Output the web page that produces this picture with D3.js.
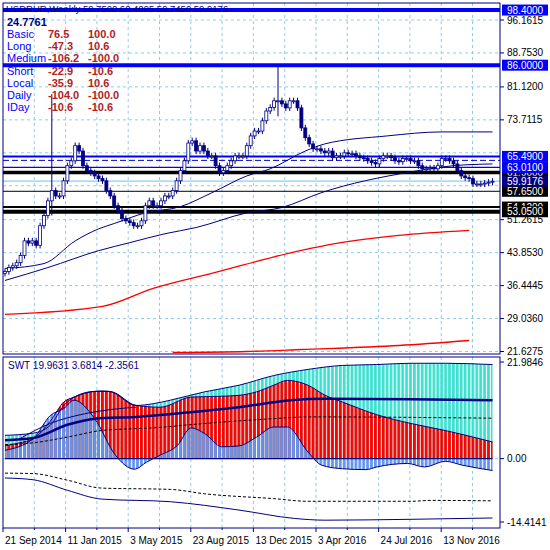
<!DOCTYPE html>
<html><head><meta charset="utf-8">
<script src="https://cdn.jsdelivr.net/npm/d3@7"></script>
<style>body{margin:0;background:#fff}svg{display:block}text{font-family:"Liberation Sans",Arial,sans-serif}</style>
</head><body><svg id="c" width="550" height="550"></svg>
<script>
// ---------- DATA ----------
const closes = [39.6,40.5,40.9,41.6,43.2,46.5,46.0,46.5,45.5,49.9,
52.2,55.5,57.8,56.6,56.6,60.0,63.4,64.5,67.9,66.7,
63.4,62.3,61.8,61.1,60.5,60.0,57.8,56.6,54.4,53.3,
51.5,51.0,50.6,49.9,49.9,51.0,54.4,55.5,54.4,54.4,
55.5,56.6,56.6,57.8,60.0,62.3,64.5,68.5,69.0,66.7,
67.9,66.7,65.6,65.6,63.4,61.8,62.3,63.4,64.5,65.6,
65.6,65.6,67.9,70.1,71.2,71.2,73.5,75.7,76.5,78.0,
78,77.3,76.4,78,78,76.4,71.9,69.7,68.3,67.2,
67.2,66.7,66.3,66.7,65.2,65.6,65.6,66.3,66.1,66.1,
65.6,65.2,65,64.5,64.1,63.8,65,65.6,65.6,65.2,
64.5,64.3,65,65,64.5,64.5,63.4,62.7,62.7,62.9,
62.7,63.4,65,65,64.5,63.8,62.3,61.1,60.7,60.5,
59.3,59.3,59.3,59.5,59.7,59.9];
const firstOpen = 39.2;
const spikes = [{i:12, high:79.5, low:52.2},{i:70, high:86.0, low:74.5}];
const maUpper = [[0,40.3],[10,41.4],[18,46.5],[24,49.2],[28,50.4],[36,52.8],[45,54.2],[53,57.3],[62,61.1],[68,62.7],[77,66.7],[82,68.3],[98,70.1],[112,71.0],[125,71.0]];
const maLower = [[0,37.6],[11,40.5],[24,44.3],[32,46.1],[41,48.1],[49,49.5],[62,52.8],[71,54.0],[81,57.3],[104,62.0],[115,63.4],[125,63.8]];
const maRedUpper = [[0,29.96],[25,31.76],[38,35.81],[53,39.19],[76,44.37],[85,45.95],[101,47.75],[119,48.87]];
const maRedLower = [[43,21.4],[62,21.63],[76,22.08],[101,22.98],[119,24.1]];
const levels = [
 {v:98.4, color:"#0000ff", w:4, label:"98.4000", bg:"#0000ff", fg:"#fff"},
 {v:86.0, color:"#0000ff", w:4, label:"86.0000", bg:"#0000ff", fg:"#fff"},
 {v:65.49, color:"#0000ff", w:2, label:"65.4900", bg:"#0000ff", fg:"#fff"},
 {v:64.6, color:"#0000cc", w:1, dash:"6,3"},
 {v:63.01, color:"#0000ff", w:1.2, label:"63.0100", bg:"#0000ff", fg:"#fff"},
 {v:61.9, color:"#000", w:3.5, label:"61.9000", bg:"#000", fg:"#fff"},
 {v:59.9176, color:"#87cefa", w:1.2, label:"59.9176", bg:"#000080", fg:"#fff"},
 {v:57.65, color:"#000", w:1, label:"57.6500", bg:"#000", fg:"#fff"},
 {v:54.1, color:"#000", w:2, label:"54.1200", bg:"#000", fg:"#fff"},
 {v:53.05, color:"#000", w:4, label:"53.0500", bg:"#000", fg:"#fff"}];
const priceTicks = [96.1615,88.7530,81.1200,73.7115,51.2615,43.8530,36.4445,29.0360,21.6275];
const gridPrices = [96.1615,88.7530,81.1200,73.7115,66.3030,58.8945,51.2615,43.8530,36.4445,29.0360,21.6275];
const dateLabels = ["21 Sep 2014","11 Jan 2015","3 May 2015","23 Aug 2015","13 Dec 2015","3 Apr 2016","24 Jul 2016","13 Nov 2016"];
const tableRows = [["Basic","76.5","100.0"],["Long","-47.3","10.6"],["Medium","-106.2","-100.0"],["Short","-22.9","-10.6"],["Local","-35.9","10.6"],["Daily","-104.0","-100.0"],["IDay","-10.6","-10.6"]];
// SWT panel
const swtCyan = [[0,5.3],[7.2,5.8],[11.6,7.6],[15.1,12.1],[17.7,14.0],[23,15.3],[26.6,15.3],[33.6,12.1],[38,12.5],[42.4,13.3],[51.2,15.2],[60,16.7],[68.9,18.9],[77.7,20.3],[86.5,21.2],[95.3,21.4],[104.1,21.7],[112.9,21.7],[125,21.4]];
const swtRed = [[0,2.9],[3.7,3.6],[7.2,4.5],[11.6,8.5],[15.1,12.9],[17.7,14.0],[24.8,15.4],[27.4,15.2],[33.6,12.1],[39.8,11.7],[47.7,14.0],[55.6,14.2],[60,14.4],[64.5,15.2],[68.9,16.7],[72.4,17.8],[77.7,16.7],[82.1,14.4],[86.5,12.9],[95.3,10.0],[104.1,8.0],[112.9,6.4],[125,3.8]];
const swtBlue = [[0,1.9],[7.2,4.5],[11.6,9.8],[15.1,11.4],[17.7,13.3],[23,9.1],[28.3,0.8],[33.2,-2.4],[36.3,-0.8],[39.8,0.8],[44.2,3.0],[47.7,7.0],[51.2,5.7],[55.6,2.7],[60,2.9],[64.5,4.9],[68.9,7.2],[72.4,7.2],[77.7,1.5],[81.2,-1.5],[86.5,-2.3],[92.6,-2.5],[95.3,-1.9],[103.2,-1.1],[107.6,-1.9],[112.9,-0.6],[117.3,-1.5],[125,-2.7]];
const swtThick = [[0,4.2],[7.2,4.7],[16,7.7],[23,9.1],[33.6,9.5],[46.8,10.5],[60,11.7],[73.3,13.3],[82.1,13.6],[104.1,13.5],[125,13.3]];
const swtThin = [[3.7,4.5],[11.6,8.0],[20.4,10.2],[27.4,11.2],[33.6,11.7]];
const swtDashUp = [[0,3.2],[7.2,3.6],[16,4.9],[24.8,6.4],[38,7.0],[51.2,8.0],[68.9,9.1],[77.7,9.5],[125,9.2]];
const swtDashLo = [[0,-3.3],[7.2,-3.4],[16,-4.9],[24.8,-6.7],[42.4,-7.0],[51.2,-8.0],[68.9,-9.1],[77.7,-9.7],[104.1,-9.7],[109.4,-9.5],[125,-9.6]];
const swtLow = [[0,-4.4],[7.2,-4.8],[16,-7.2],[24.8,-9.2],[42.4,-9.8],[60,-11.7],[74.2,-13.6],[82.1,-14.0],[104.1,-13.8],[125,-13.5]];
const swtTicks = [21.9846, 0.00, -14.4141];
const swtText = "SWT 19.9631 3.6814 -2.3561";

// ---------- DRAW ----------
const svg = d3.select("#c");
const NAVY="#000080";
const L=3,R=500;
const mainTop=3, mainBot=354, subTop=357, subBot=528;
const x = d3.scaleLinear().domain([0,1]).range([5,8.9]);
const y = d3.scaleLinear().domain([21.6275,96.1615]).range([351.5,20]);
const ys = d3.scaleLinear().domain([-14.4141,21.9846]).range([522,362]);

const defs = svg.append("defs");
defs.append("clipPath").attr("id","cm").append("rect").attr("x",L).attr("y",mainTop).attr("width",R-L).attr("height",mainBot-mainTop);
defs.append("clipPath").attr("id","cs").append("rect").attr("x",L).attr("y",subTop).attr("width",R-L).attr("height",subBot-subTop);
function pat(id,col){const p=defs.append("pattern").attr("id",id).attr("patternUnits","userSpaceOnUse").attr("x",x(0)-1.5).attr("y",0).attr("width",3.9).attr("height",10);
 p.append("rect").attr("width",2.8).attr("height",10).attr("fill",col);}
pat("pc","#40e0d0");pat("pr","#ff0000");pat("pb","#6495ed");

const gridX = d3.range(0,16).map(k=>L+31.3*k);
const gM = svg.append("g").attr("clip-path","url(#cm)");
const gS = svg.append("g").attr("clip-path","url(#cs)");
[gM,gS].forEach((g,gi)=>{
 g.selectAll(".vg").data(gridX.slice(1)).join("line").attr("x1",d=>d).attr("x2",d=>d)
  .attr("y1",gi?subTop:mainTop).attr("y2",gi?subBot:mainBot).attr("stroke","#87cefa").attr("stroke-dasharray","3,3");
});
gM.selectAll(".hg").data(gridPrices).join("line").attr("x1",L).attr("x2",R).attr("y1",d=>y(d)).attr("y2",d=>y(d))
 .attr("stroke","#87cefa").attr("stroke-dasharray","3,3");
gS.append("line").attr("x1",L).attr("x2",R).attr("y1",ys(0)).attr("y2",ys(0)).attr("stroke","#87cefa").attr("stroke-dasharray","3,3");

gM.selectAll(".lv").data(levels).join("line").attr("x1",L).attr("x2",R).attr("y1",d=>y(d.v)).attr("y2",d=>y(d.v))
 .attr("stroke",d=>d.color).attr("stroke-width",d=>d.w).attr("stroke-dasharray",d=>d.dash||null);

const ln = d3.line().x(d=>x(d[0])).y(d=>y(d[1])).curve(d3.curveMonotoneX);
gM.append("path").attr("d",ln(maUpper)).attr("fill","none").attr("stroke",NAVY);
gM.append("path").attr("d",ln(maLower)).attr("fill","none").attr("stroke",NAVY);
gM.append("path").attr("d",ln(maRedUpper)).attr("fill","none").attr("stroke","#ff0000").attr("stroke-width",1.3);
gM.append("path").attr("d",ln(maRedLower)).attr("fill","none").attr("stroke","#ff0000").attr("stroke-width",1.3);

const candles = closes.map((c,i)=>{const o=i?closes[i-1]:firstOpen;let h=Math.max(o,c)+0.7,l=Math.min(o,c)-0.7;
 const s=spikes.find(s=>s.i===i); if(s){h=s.high;l=s.low;} return {i,o,c,h,l};});
const cg = gM.selectAll(".cd").data(candles).join("g");
cg.append("line").attr("x1",d=>x(d.i)).attr("x2",d=>x(d.i)).attr("y1",d=>y(d.h)).attr("y2",d=>y(d.l)).attr("stroke",NAVY);
cg.append("rect").attr("x",d=>x(d.i)-1.5).attr("width",3).attr("y",d=>y(Math.max(d.o,d.c)))
 .attr("height",d=>Math.max(1,Math.abs(y(d.o)-y(d.c)))).attr("fill",d=>d.c>=d.o?"#fff":NAVY).attr("stroke",NAVY).attr("stroke-width",0.8);

const ar = d3.area().x(d=>x(d[0])).y0(ys(0)).y1(d=>ys(d[1])).curve(d3.curveMonotoneX);
const ls = d3.line().x(d=>x(d[0])).y(d=>ys(d[1])).curve(d3.curveMonotoneX);
[[swtCyan,"pc"],[swtRed,"pr"],[swtBlue,"pb"]].forEach(([d,p])=>{
 gS.append("path").attr("d",ar(d)).attr("fill",`url(#${p})`);
});
[swtCyan,swtRed,swtBlue].forEach(d=>gS.append("path").attr("d",ls(d)).attr("fill","none").attr("stroke",NAVY).attr("stroke-width",1));
gS.append("line").attr("x1",x(0)).attr("x2",x(125)).attr("y1",ys(0)).attr("y2",ys(0)).attr("stroke",NAVY).attr("stroke-width",1.2);
gS.append("path").attr("d",ls(swtThick)).attr("fill","none").attr("stroke",NAVY).attr("stroke-width",2.5);
gS.append("path").attr("d",ls(swtThin)).attr("fill","none").attr("stroke",NAVY).attr("stroke-width",1);
gS.append("path").attr("d",ls(swtDashUp)).attr("fill","none").attr("stroke","#000").attr("stroke-dasharray","3,2");
gS.append("path").attr("d",ls(swtDashLo)).attr("fill","none").attr("stroke","#000").attr("stroke-dasharray","3,2");
gS.append("path").attr("d",ls(swtLow)).attr("fill","none").attr("stroke",NAVY);

svg.append("rect").attr("x",L).attr("y",mainTop).attr("width",R-L).attr("height",mainBot-mainTop).attr("fill","none").attr("stroke",NAVY);
svg.append("rect").attr("x",L).attr("y",subTop).attr("width",R-L).attr("height",subBot-subTop).attr("fill","none").attr("stroke",NAVY);

const fs=10;
svg.selectAll(".pt").data(priceTicks).join("g").each(function(d){
 const g=d3.select(this);
 g.append("line").attr("x1",R).attr("x2",R+4).attr("y1",y(d)).attr("y2",y(d)).attr("stroke",NAVY);
 g.append("text").attr("x",R+7).attr("y",y(d)+3.5).attr("font-size",fs).attr("fill","#000").text(d.toFixed(4));
});
const order=["61.9000","54.1200","63.0100","65.4900","98.4000","86.0000","57.6500","53.0500","59.9176"];
order.map(l=>levels.find(d=>d.label===l)).forEach(d=>{
 svg.append("rect").attr("x",R+2).attr("y",y(d.v)-5.5).attr("width",46).attr("height",11).attr("fill",d.bg);
 svg.append("text").attr("x",R+7).attr("y",y(d.v)+3.5).attr("font-size",fs).attr("fill",d.fg).text(d.label);
});
svg.selectAll(".st").data(swtTicks).join("g").each(function(d){
 const g=d3.select(this);
 g.append("line").attr("x1",R).attr("x2",R+4).attr("y1",ys(d)).attr("y2",ys(d)).attr("stroke",NAVY);
 g.append("text").attr("x",R+7).attr("y",ys(d)+3.5).attr("font-size",fs).attr("fill","#000").text(d===0?"0.00":d.toFixed(4));
});

dateLabels.forEach((t,k)=>{
 const gx=gridX[k*2];
 svg.append("line").attr("x1",gx).attr("x2",gx).attr("y1",subBot).attr("y2",subBot+4).attr("stroke",NAVY);
 svg.append("text").attr("x",gx+2).attr("y",544).attr("font-size",fs).attr("fill","#000").text(t);
});
gridX.filter((d,i)=>i%2).forEach(gx=>svg.append("line").attr("x1",gx).attr("x2",gx).attr("y1",subBot).attr("y2",subBot+2).attr("stroke",NAVY));

svg.append("text").attr("x",6).attr("y",12).attr("font-size",9.5).attr("fill",NAVY).text("USDRUR,Weekly  59.7500 60.4095 59.7450 59.9176");
svg.append("text").attr("x",7).attr("y",26).attr("font-size",11).attr("font-weight","bold").attr("font-family","DejaVu Sans").attr("fill",NAVY).text("24.7761");
tableRows.forEach((r,k)=>{
 const yy=38+k*12.2;
 svg.append("text").attr("x",7).attr("y",yy).attr("font-size",11).attr("fill","#0000ff").text(r[0]);
 svg.append("text").attr("x",48).attr("y",yy).attr("font-size",11).attr("font-weight","bold").attr("fill","#b22222").text(r[1]);
 svg.append("text").attr("x",88).attr("y",yy).attr("font-size",11).attr("font-weight","bold").attr("fill","#b22222").text(r[2]);
});
svg.append("text").attr("x",8).attr("y",369).attr("font-size",10).attr("fill",NAVY).text(swtText);
</script></body></html>
